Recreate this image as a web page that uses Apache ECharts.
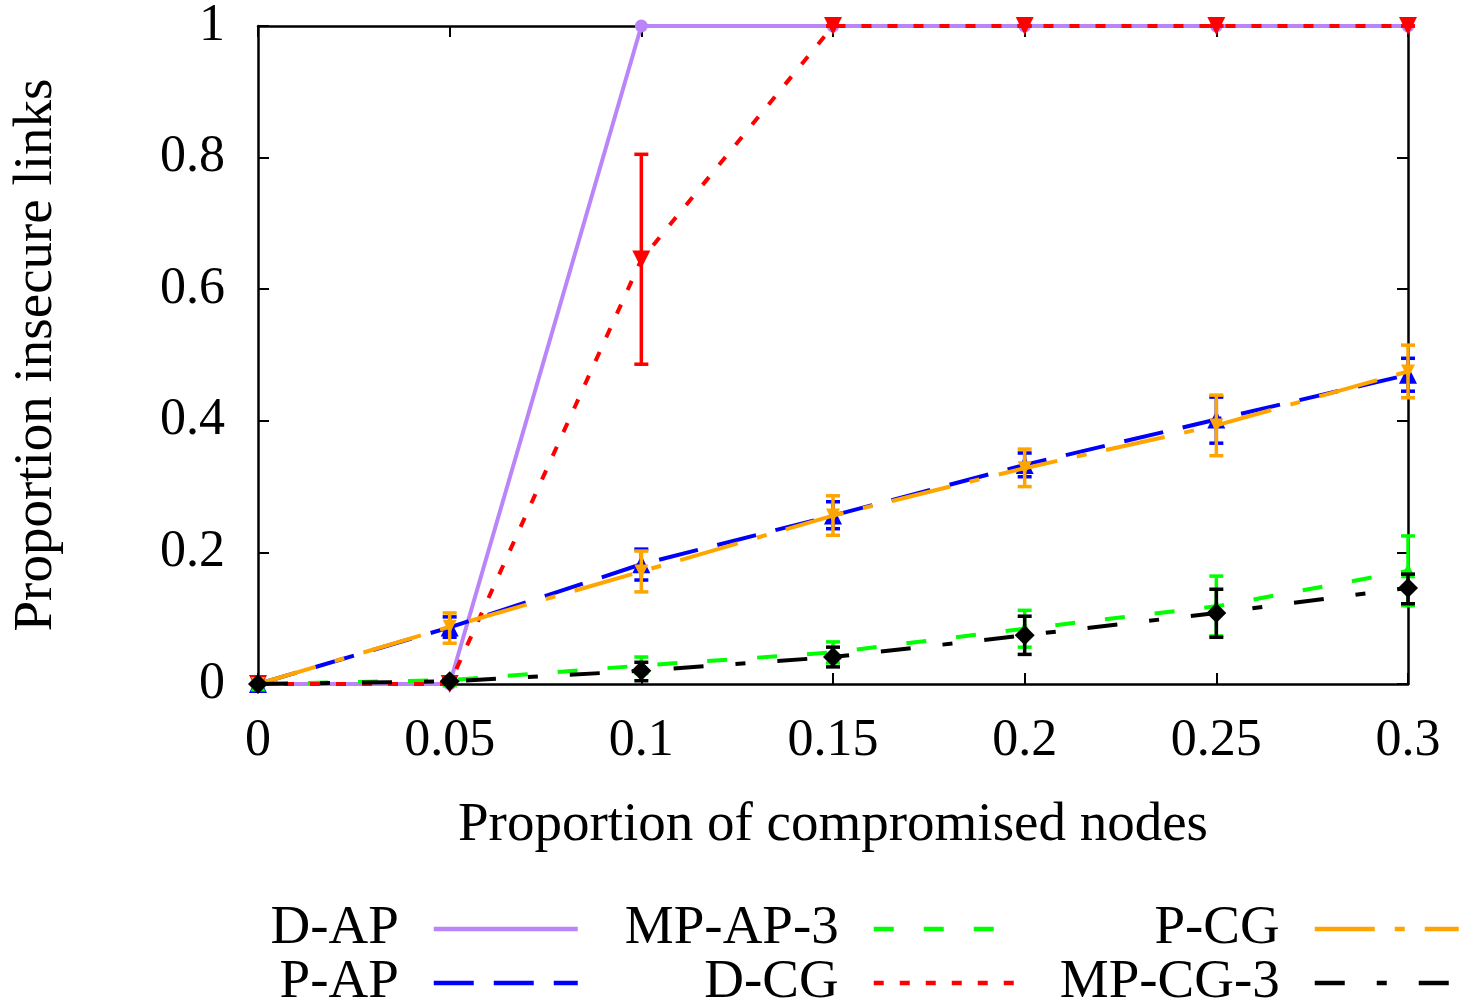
<!DOCTYPE html>
<html>
<head>
<meta charset="utf-8">
<script src="https://cdn.jsdelivr.net/npm/echarts@6/dist/echarts.min.js"></script>
<style>
html,body{margin:0;padding:0;background:#fff;}
#chart{width:1462px;height:1007px;}
</style>
</head>
<body>
<div id="chart"></div>
<script>
// ---- data ----
const xValues = [0, 0.05, 0.1, 0.15, 0.2, 0.25, 0.3];
const xTickLabels = ['0', '0.05', '0.1', '0.15', '0.2', '0.25', '0.3'];
const yTickLabels = ['0', '0.2', '0.4', '0.6', '0.8', '1'];

const dAP = [0, 0, 1, 1, 1, 1, 1];

const pAP = [0, 0.086, 0.182, 0.256, 0.333, 0.402, 0.470];
const pAPLow = [0, 0.071, 0.158, 0.236, 0.315, 0.366, 0.445];
const pAPHigh = [0, 0.102, 0.205, 0.277, 0.351, 0.436, 0.495];

const mpAP3 = [0, 0.006, 0.028, 0.048, 0.084, 0.118, 0.172];
const mpAP3Low = [0, 0.003, 0.016, 0.032, 0.056, 0.073, 0.119];
const mpAP3High = [0, 0.009, 0.041, 0.064, 0.112, 0.164, 0.225];

const dCG = [0, 0, 0.645, 1, 1, 1, 1];
const dCGLow = [0, 0, 0.486, 1, 1, 1, 1];
const dCGHigh = [0, 0, 0.805, 1, 1, 1, 1];

const pCG = [0, 0.087, 0.171, 0.256, 0.328, 0.393, 0.475];
const pCGLow = [0, 0.062, 0.140, 0.226, 0.300, 0.347, 0.435];
const pCGHigh = [0, 0.108, 0.202, 0.286, 0.357, 0.439, 0.515];

const mpCG3 = [0, 0.004, 0.020, 0.041, 0.074, 0.108, 0.146];
const mpCG3Low = [0, 0.002, 0.005, 0.026, 0.045, 0.071, 0.122];
const mpCG3High = [0, 0.007, 0.033, 0.056, 0.103, 0.144, 0.167];

// ---- style ----
const FONT = 'Liberation Serif';
const FS_TICK = 52;
const FS_TEXT = 55;
const LW = 4;

const seriesDefs = [
  {name: 'D-AP', vals: dAP, low: null, high: null, color: '#b985f8', dash: 'solid', symbol: 'circle', size: 13},
  {name: 'P-AP', vals: pAP, low: pAPLow, high: pAPHigh, color: '#0000ff', dash: [40, 20], symbol: 'triangle', size: 18},
  {name: 'MP-AP-3', vals: mpAP3, low: mpAP3Low, high: mpAP3High, color: '#00ff00', dash: [20, 30], symbol: 'triangle', size: 15},
  {name: 'D-CG', vals: dCG, low: dCGLow, high: dCGHigh, color: '#ff0000', dash: [10, 16], symbol: 'path://M0,0 L10,0 L5,10 Z', size: 18},
  {name: 'P-CG', vals: pCG, low: pCGLow, high: pCGHigh, color: '#ffa500', dash: [60, 20, 10, 20], symbol: 'path://M0,0 L10,0 L5,10 Z', size: 14},
  {name: 'MP-CG-3', vals: mpCG3, low: mpCG3Low, high: mpCG3High, color: '#000000', dash: [30, 32, 10, 32], symbol: 'diamond', size: 20}
];

function errRender(color) {
  return function (params, api) {
    const x = api.value(0);
    const p1 = api.coord([x, api.value(1)]);
    const p2 = api.coord([x, api.value(2)]);
    const hw = 7;
    const style = {stroke: color, lineWidth: LW - 0.5};
    return {
      type: 'group',
      children: [
        {type: 'line', shape: {x1: p1[0], y1: p1[1], x2: p2[0], y2: p2[1]}, style: style},
        {type: 'line', shape: {x1: p1[0] - hw, y1: p1[1], x2: p1[0] + hw, y2: p1[1]}, style: style},
        {type: 'line', shape: {x1: p2[0] - hw, y1: p2[1], x2: p2[0] + hw, y2: p2[1]}, style: style}
      ]
    };
  };
}

const series = [];
seriesDefs.forEach(function (d, i) {
  const pts = xValues.map(function (x, k) { return [x, d.vals[k]]; });
  if (d.low) {
    series.push({
      name: d.name + ' err',
      type: 'custom',
      renderItem: errRender(d.color),
      data: xValues.map(function (x, k) { return [x, d.low[k], d.high[k]]; }),
      z: 2 + i * 3,
      silent: true,
      clip: false
    });
  }
  series.push({
    name: d.name,
    type: 'line',
    data: pts,
    symbol: 'none',
    lineStyle: {color: d.color, width: LW, type: d.dash},
    itemStyle: {color: d.color},
    z: 3 + i * 3,
    silent: true,
    animation: false
  });
  series.push({
    name: d.name + ' pts',
    type: 'scatter',
    data: pts,
    symbol: d.symbol,
    symbolSize: d.size,
    itemStyle: {color: d.color, opacity: 1},
    z: 4 + i * 3,
    silent: true,
    animation: false
  });
});

// legends: 3 columns x 2 rows, text to the left of sample
const legendPos = [
  {name: 'D-AP', right: 882, top: 899},
  {name: 'P-AP', right: 882, top: 953},
  {name: 'MP-AP-3', right: 442, top: 899},
  {name: 'D-CG', right: 442, top: 953},
  {name: 'P-CG', right: 1, top: 899},
  {name: 'MP-CG-3', right: 1, top: 953}
];
const legends = legendPos.map(function (l) {
  return {
    data: [l.name],
    right: l.right,
    top: l.top,
    align: 'right',
    orient: 'horizontal',
    itemWidth: 144,
    itemHeight: 1,
    padding: 0,
    selectedMode: false,
    itemStyle: {opacity: 0},
    lineStyle: {width: 4.5},
    textStyle: {fontFamily: FONT, fontSize: FS_TEXT, color: '#000', lineHeight: 60, padding: [0, 30, 0, 0]}
  };
});

const axisLineStyle = {show: true, onZero: false, lineStyle: {color: '#000', width: 2.5}};
const tickStyle = {show: true, inside: true, length: 11, lineStyle: {color: '#000', width: 2}};

const option = {
  animation: false,
  backgroundColor: '#fff',
  grid: {left: 258, right: 54, top: 26, bottom: 323, containLabel: false},
  legend: legends,
  xAxis: [
    {
      type: 'value', min: 0, max: 0.3, interval: 0.05, position: 'bottom',
      axisLine: axisLineStyle,
      axisTick: tickStyle,
      splitLine: {show: false},
      axisLabel: {
        fontFamily: FONT, fontSize: FS_TICK, color: '#000', margin: 31,
        formatter: function (v) { return xTickLabels[Math.round(v / 0.05)]; }
      },
      name: 'Proportion of compromised nodes',
      nameLocation: 'middle', nameGap: 114,
      nameTextStyle: {fontFamily: FONT, fontSize: FS_TEXT, color: '#000'}
    },
    {
      type: 'value', min: 0, max: 0.3, interval: 0.05, position: 'top',
      axisLine: axisLineStyle,
      axisTick: tickStyle,
      splitLine: {show: false},
      axisLabel: {show: false}
    }
  ],
  yAxis: [
    {
      type: 'value', min: 0, max: 1, interval: 0.2, position: 'left',
      axisLine: axisLineStyle,
      axisTick: tickStyle,
      splitLine: {show: false},
      axisLabel: {
        fontFamily: FONT, fontSize: FS_TICK, color: '#000', margin: 33,
        formatter: function (v) { return yTickLabels[Math.round(v / 0.2)]; }
      },
      name: 'Proportion insecure links',
      nameLocation: 'middle', nameGap: 194, nameRotate: 90,
      nameTextStyle: {fontFamily: FONT, fontSize: FS_TEXT, color: '#000'}
    },
    {
      type: 'value', min: 0, max: 1, interval: 0.2, position: 'right',
      axisLine: axisLineStyle,
      axisTick: tickStyle,
      splitLine: {show: false},
      axisLabel: {show: false}
    }
  ],
  series: series
};

const chart = echarts.init(document.getElementById('chart'), null, {renderer: 'canvas'});
chart.setOption(option);
</script>
</body>
</html>
